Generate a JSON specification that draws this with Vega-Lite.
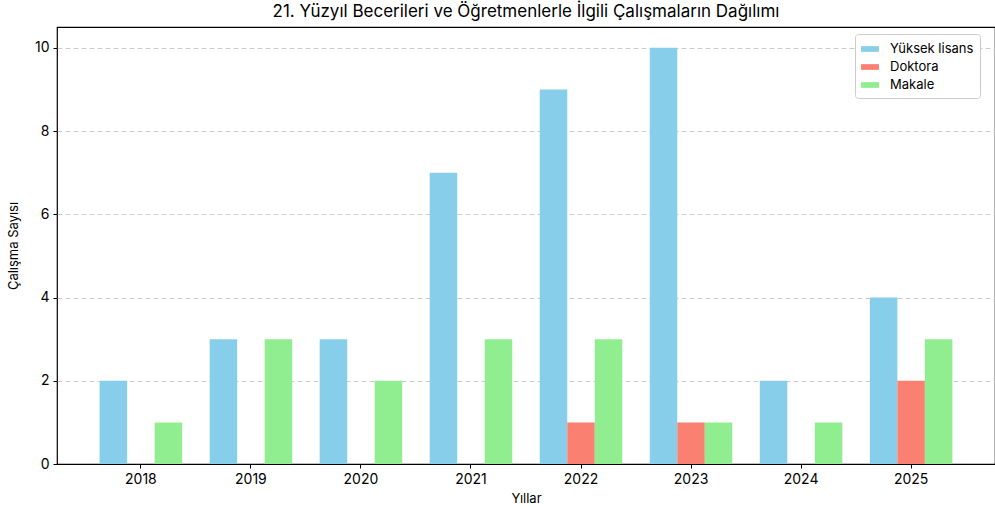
{
  "$schema": "https://vega.github.io/schema/vega-lite/v6.json",
  "width": 938,
  "height": 437,
  "autosize": {"type": "none"},
  "padding": {"left": 57, "top": 27, "right": 0, "bottom": 45},
  "background": "white",
  "title": {"text": "21. Yüzyıl Becerileri ve Öğretmenlerle İlgili Çalışmaların Dağılımı", "font": "Inter", "fontSize": 17, "fontWeight": "normal", "color": "black", "anchor": "middle", "offset": 6},
  "config": {
    "view": {"stroke": "black", "strokeWidth": 1.2},
    "font": "Inter"
  },
  "data": {"values": [
    {"yil": "2018", "tur": "Yüksek lisans", "sayi": 2},
    {"yil": "2018", "tur": "Doktora", "sayi": 0},
    {"yil": "2018", "tur": "Makale", "sayi": 1},
    {"yil": "2019", "tur": "Yüksek lisans", "sayi": 3},
    {"yil": "2019", "tur": "Doktora", "sayi": 0},
    {"yil": "2019", "tur": "Makale", "sayi": 3},
    {"yil": "2020", "tur": "Yüksek lisans", "sayi": 3},
    {"yil": "2020", "tur": "Doktora", "sayi": 0},
    {"yil": "2020", "tur": "Makale", "sayi": 2},
    {"yil": "2021", "tur": "Yüksek lisans", "sayi": 7},
    {"yil": "2021", "tur": "Doktora", "sayi": 0},
    {"yil": "2021", "tur": "Makale", "sayi": 3},
    {"yil": "2022", "tur": "Yüksek lisans", "sayi": 9},
    {"yil": "2022", "tur": "Doktora", "sayi": 1},
    {"yil": "2022", "tur": "Makale", "sayi": 3},
    {"yil": "2023", "tur": "Yüksek lisans", "sayi": 10},
    {"yil": "2023", "tur": "Doktora", "sayi": 1},
    {"yil": "2023", "tur": "Makale", "sayi": 1},
    {"yil": "2024", "tur": "Yüksek lisans", "sayi": 2},
    {"yil": "2024", "tur": "Doktora", "sayi": 0},
    {"yil": "2024", "tur": "Makale", "sayi": 1},
    {"yil": "2025", "tur": "Yüksek lisans", "sayi": 4},
    {"yil": "2025", "tur": "Doktora", "sayi": 2},
    {"yil": "2025", "tur": "Makale", "sayi": 3}
  ]},
  "mark": {"type": "bar"},
  "encoding": {
    "x": {
      "field": "yil", "type": "nominal",
      "scale": {"paddingInner": 0.25, "paddingOuter": 0.3875},
      "axis": {"title": "Yıllar", "labelAngle": 0, "labelFontSize": 14, "labelColor": "black", "titleFontSize": 13, "titleFontWeight": "normal", "titleColor": "black", "tickColor": "black", "tickSize": 4, "domain": false, "grid": false, "labelPadding": 4, "titlePadding": 6}
    },
    "xOffset": {"field": "tur", "type": "nominal", "sort": ["Yüksek lisans", "Doktora", "Makale"], "scale": {"paddingInner": 0, "paddingOuter": 0}},
    "y": {
      "field": "sayi", "type": "quantitative",
      "scale": {"domain": [0, 10.5], "nice": false},
      "axis": {"title": "Çalışma Sayısı", "values": [0, 2, 4, 6, 8, 10], "labelFontSize": 14, "labelColor": "black", "titleFontSize": 13, "titleFontWeight": "normal", "titleColor": "black", "tickColor": "black", "tickSize": 4, "domain": false, "grid": true, "gridDash": [5, 3], "gridColor": "#cccccc", "gridWidth": 1, "gridOpacity": {"condition": {"test": "datum.value === 0", "value": 0}, "value": 1}, "labelPadding": 4, "titlePadding": 14}
    },
    "color": {
      "field": "tur", "type": "nominal",
      "sort": ["Yüksek lisans", "Doktora", "Makale"],
      "scale": {"domain": ["Yüksek lisans", "Doktora", "Makale"], "range": ["#87CEEB", "#FA8072", "#90EE90"]},
      "legend": {"title": null, "orient": "none", "legendX": 798, "legendY": 7, "direction": "vertical", "symbolType": "M-1,-0.32H1V0.32H-1Z", "symbolSize": 320, "symbolStrokeWidth": 0, "labelFontSize": 13, "labelColor": "black", "rowPadding": 2, "fillColor": "white", "strokeColor": "#cccccc", "cornerRadius": 3, "padding": 6, "labelOffset": 11}
    }
  }
}
